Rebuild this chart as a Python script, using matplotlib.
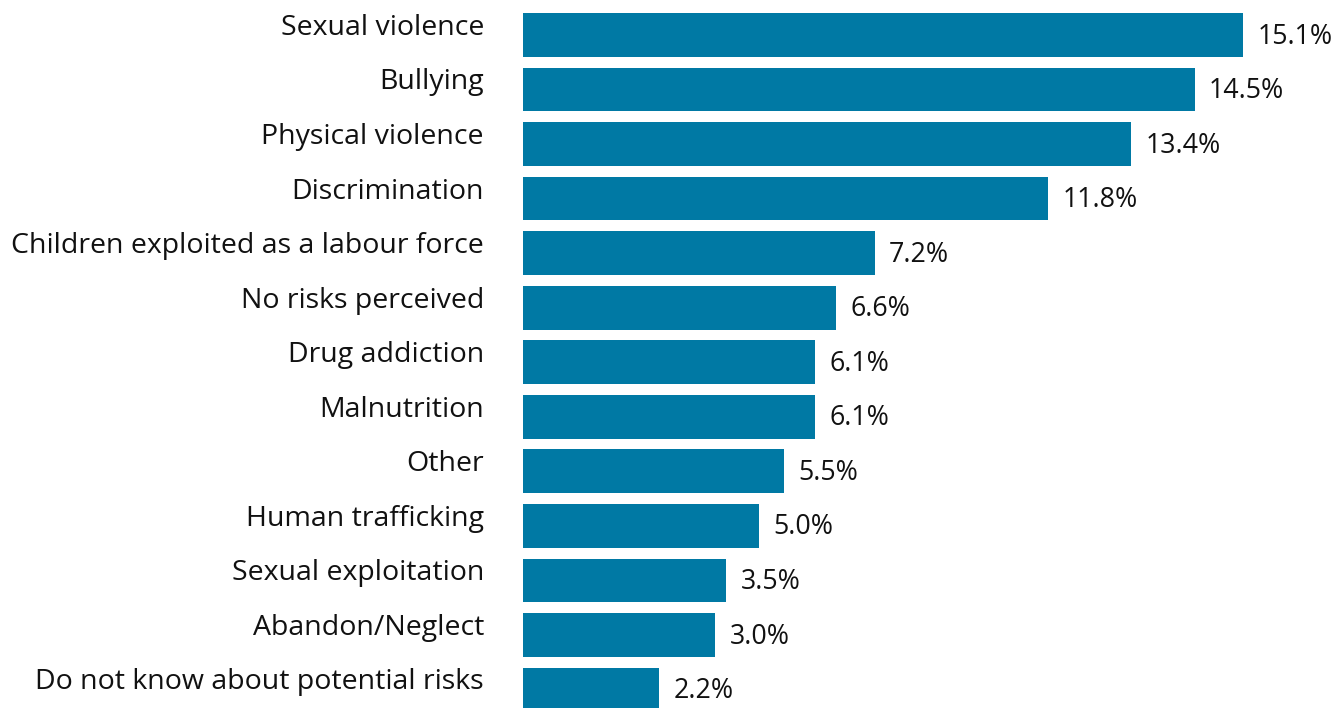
import numpy as np
import matplotlib.pyplot as plt

plt.rcParams['font.family'] = ['Open Sans', 'DejaVu Sans']

categories = ['Sexual violence', 'Bullying', 'Physical violence', 'Discrimination',
              'Children exploited as a labour force', 'No risks perceived', 'Drug addiction',
              'Malnutrition', 'Other', 'Human trafficking', 'Sexual exploitation',
              'Abandon/Neglect', 'Do not know about potential risks']
# percentages printed next to the bars
shares = [15.1, 14.5, 13.4, 11.8, 7.2, 6.6, 6.1, 6.1, 5.5, 5.0, 3.5, 3.0, 2.2]
# bar lengths as drawn in the picture (they don't track the printed labels exactly)
bar_lengths = [15.10, 14.09, 12.75, 11.01, 7.38, 6.56, 6.12, 6.12, 5.47, 4.95, 4.26, 4.03, 2.85]

W, H = 1335, 708
fig = plt.figure(figsize=(W / 100, H / 100), dpi=100)
ax = fig.add_axes([523 / W, 0, 1 - 523 / W, 1])

y = np.arange(len(categories))
ax.barh(y, bar_lengths, height=0.8, color='#0079a4')

ax.set_xlim(0, (W - 523) / 47.68)
ax.set_ylim(12.34, -0.642)
ax.axis('off')

for i, (cat, val, length) in enumerate(zip(categories, shares, bar_lengths)):
    ax.text(length + 0.3, i + 0.03, f'{val:.1f}%', va='center', ha='left',
            fontsize=19.3, color='#111111')
    ax.text(-0.82, i - 0.13, cat, va='center', ha='right',
            fontsize=20.5, color='#111111', clip_on=False)

fig.savefig('out.png', dpi=100)
